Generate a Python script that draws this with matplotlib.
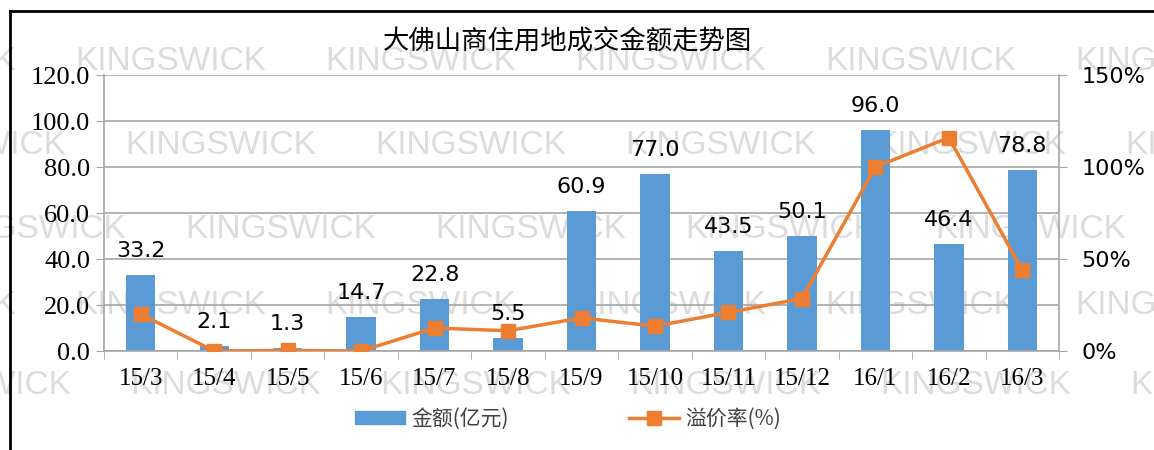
import matplotlib
matplotlib.use("Agg")
import matplotlib.pyplot as plt
from matplotlib.lines import Line2D
import numpy as np

plt.rcParams['font.family'] = ['Noto Sans CJK SC', 'DejaVu Sans']

# 数据
months = ["15/3", "15/4", "15/5", "15/6", "15/7", "15/8", "15/9",
          "15/10", "15/11", "15/12", "16/1", "16/2", "16/3"]
amount = [33.2, 2.1, 1.3, 14.7, 22.8, 5.5, 60.9, 77.0, 43.5, 50.1, 96.0, 46.4, 78.8]
premium = [20, 0, 0.3, 0, 12.5, 11, 18, 13.5, 21, 28.5, 100, 116, 44]
left_ticks = [0, 20, 40, 60, 80, 100, 120]
right_ticks = [0, 50, 100, 150]

blue = "#5B9BD5"
orange = "#ED7D31"
grid_c = "#A6A6A6"

fig = plt.figure(figsize=(11.54, 4.5), dpi=100)

# 水印
wm_rows = [(62, 75), (145, 125), (230, 185), (305, 75), (385, 130)]
for y, x0 in wm_rows:
    for k in range(-1, 6):
        fig.text((x0 + 250 * k) / 1154, 1 - y / 450, "KINGSWICK",
                 family="Liberation Sans", fontsize=24,
                 color="#dcdcdc", ha="left", va="center", zorder=-5)

ax = fig.add_axes([104 / 1154, 1 - 351 / 450, (1059 - 104) / 1154, (351 - 75) / 450])
ax.patch.set_alpha(0)
x = np.arange(len(months))
ax.bar(x, amount, width=0.4, color=blue, zorder=2)
ax.set_xlim(-0.5, len(months) - 0.5)
ax.set_ylim(0, 120)
ax.set_yticks(left_ticks)
ax.set_yticklabels([f"{v:.1f}" for v in left_ticks], family="Liberation Serif", fontsize=19)
ax.set_xticks(x)
ax.set_xticklabels(months, family="Liberation Serif", fontsize=18)
ax.set_xticks(np.arange(-0.5, len(months)), minor=True)
ax.tick_params(axis="x", which="major", length=0, pad=12)
ax.tick_params(axis="x", which="minor", length=6, color=grid_c, direction="out")
ax.tick_params(axis="y", length=6, color=grid_c, pad=4)
ax.grid(axis="y", color=grid_c, linewidth=1.2, zorder=0)
for s in ["left", "bottom", "right"]:
    ax.spines[s].set_color(grid_c)
    ax.spines[s].set_linewidth(1.2)
ax.spines["top"].set_visible(False)

for xi, v in zip(x, amount):
    ax.annotate(f"{v:.1f}", (xi, v), xytext=(0, 10), textcoords="offset points",
                ha="center", va="bottom", fontsize=16, family="DejaVu Sans", zorder=5)

ax2 = ax.twinx()
ax2.plot(x, premium, color=orange, linewidth=2.5, marker="s", markersize=10, zorder=3)
ax2.set_ylim(0, 150)
ax2.set_yticks(right_ticks)
ax2.set_yticklabels([f"{v}%" for v in right_ticks], family="DejaVu Sans", fontsize=16)
ax2.tick_params(axis="y", length=6, color=grid_c, pad=10)
for s in ["left", "bottom", "right", "top"]:
    ax2.spines[s].set_visible(False)

fig.text(567 / 1154, 1 - 42 / 450, "大佛山商住用地成交金额走势图", fontsize=19,
         ha="center", va="center")

# 图例
h1 = plt.Rectangle((0, 0), 1, 1, color=blue)
h2 = Line2D([], [], color=orange, linewidth=2.5, marker="s", markersize=10)
fig.legend([h1, h2], ["金额(亿元)", "溢价率(%)"], loc="center", ncol=2,
           bbox_to_anchor=(568 / 1154, 1 - 419 / 450), frameon=False, fontsize=15,
           labelcolor="#404040", columnspacing=5.8, handlelength=2.4, handleheight=0.6,
           handletextpad=0.3)

# 外框
fig.add_artist(Line2D([10 / 1154, 1], [1 - 11 / 450, 1 - 11 / 450], color="black",
                      linewidth=2, transform=fig.transFigure))
fig.add_artist(Line2D([10 / 1154, 10 / 1154], [0, 1 - 11 / 450], color="black",
                      linewidth=2, transform=fig.transFigure))

fig.savefig("out.png", dpi=100, facecolor="white")
